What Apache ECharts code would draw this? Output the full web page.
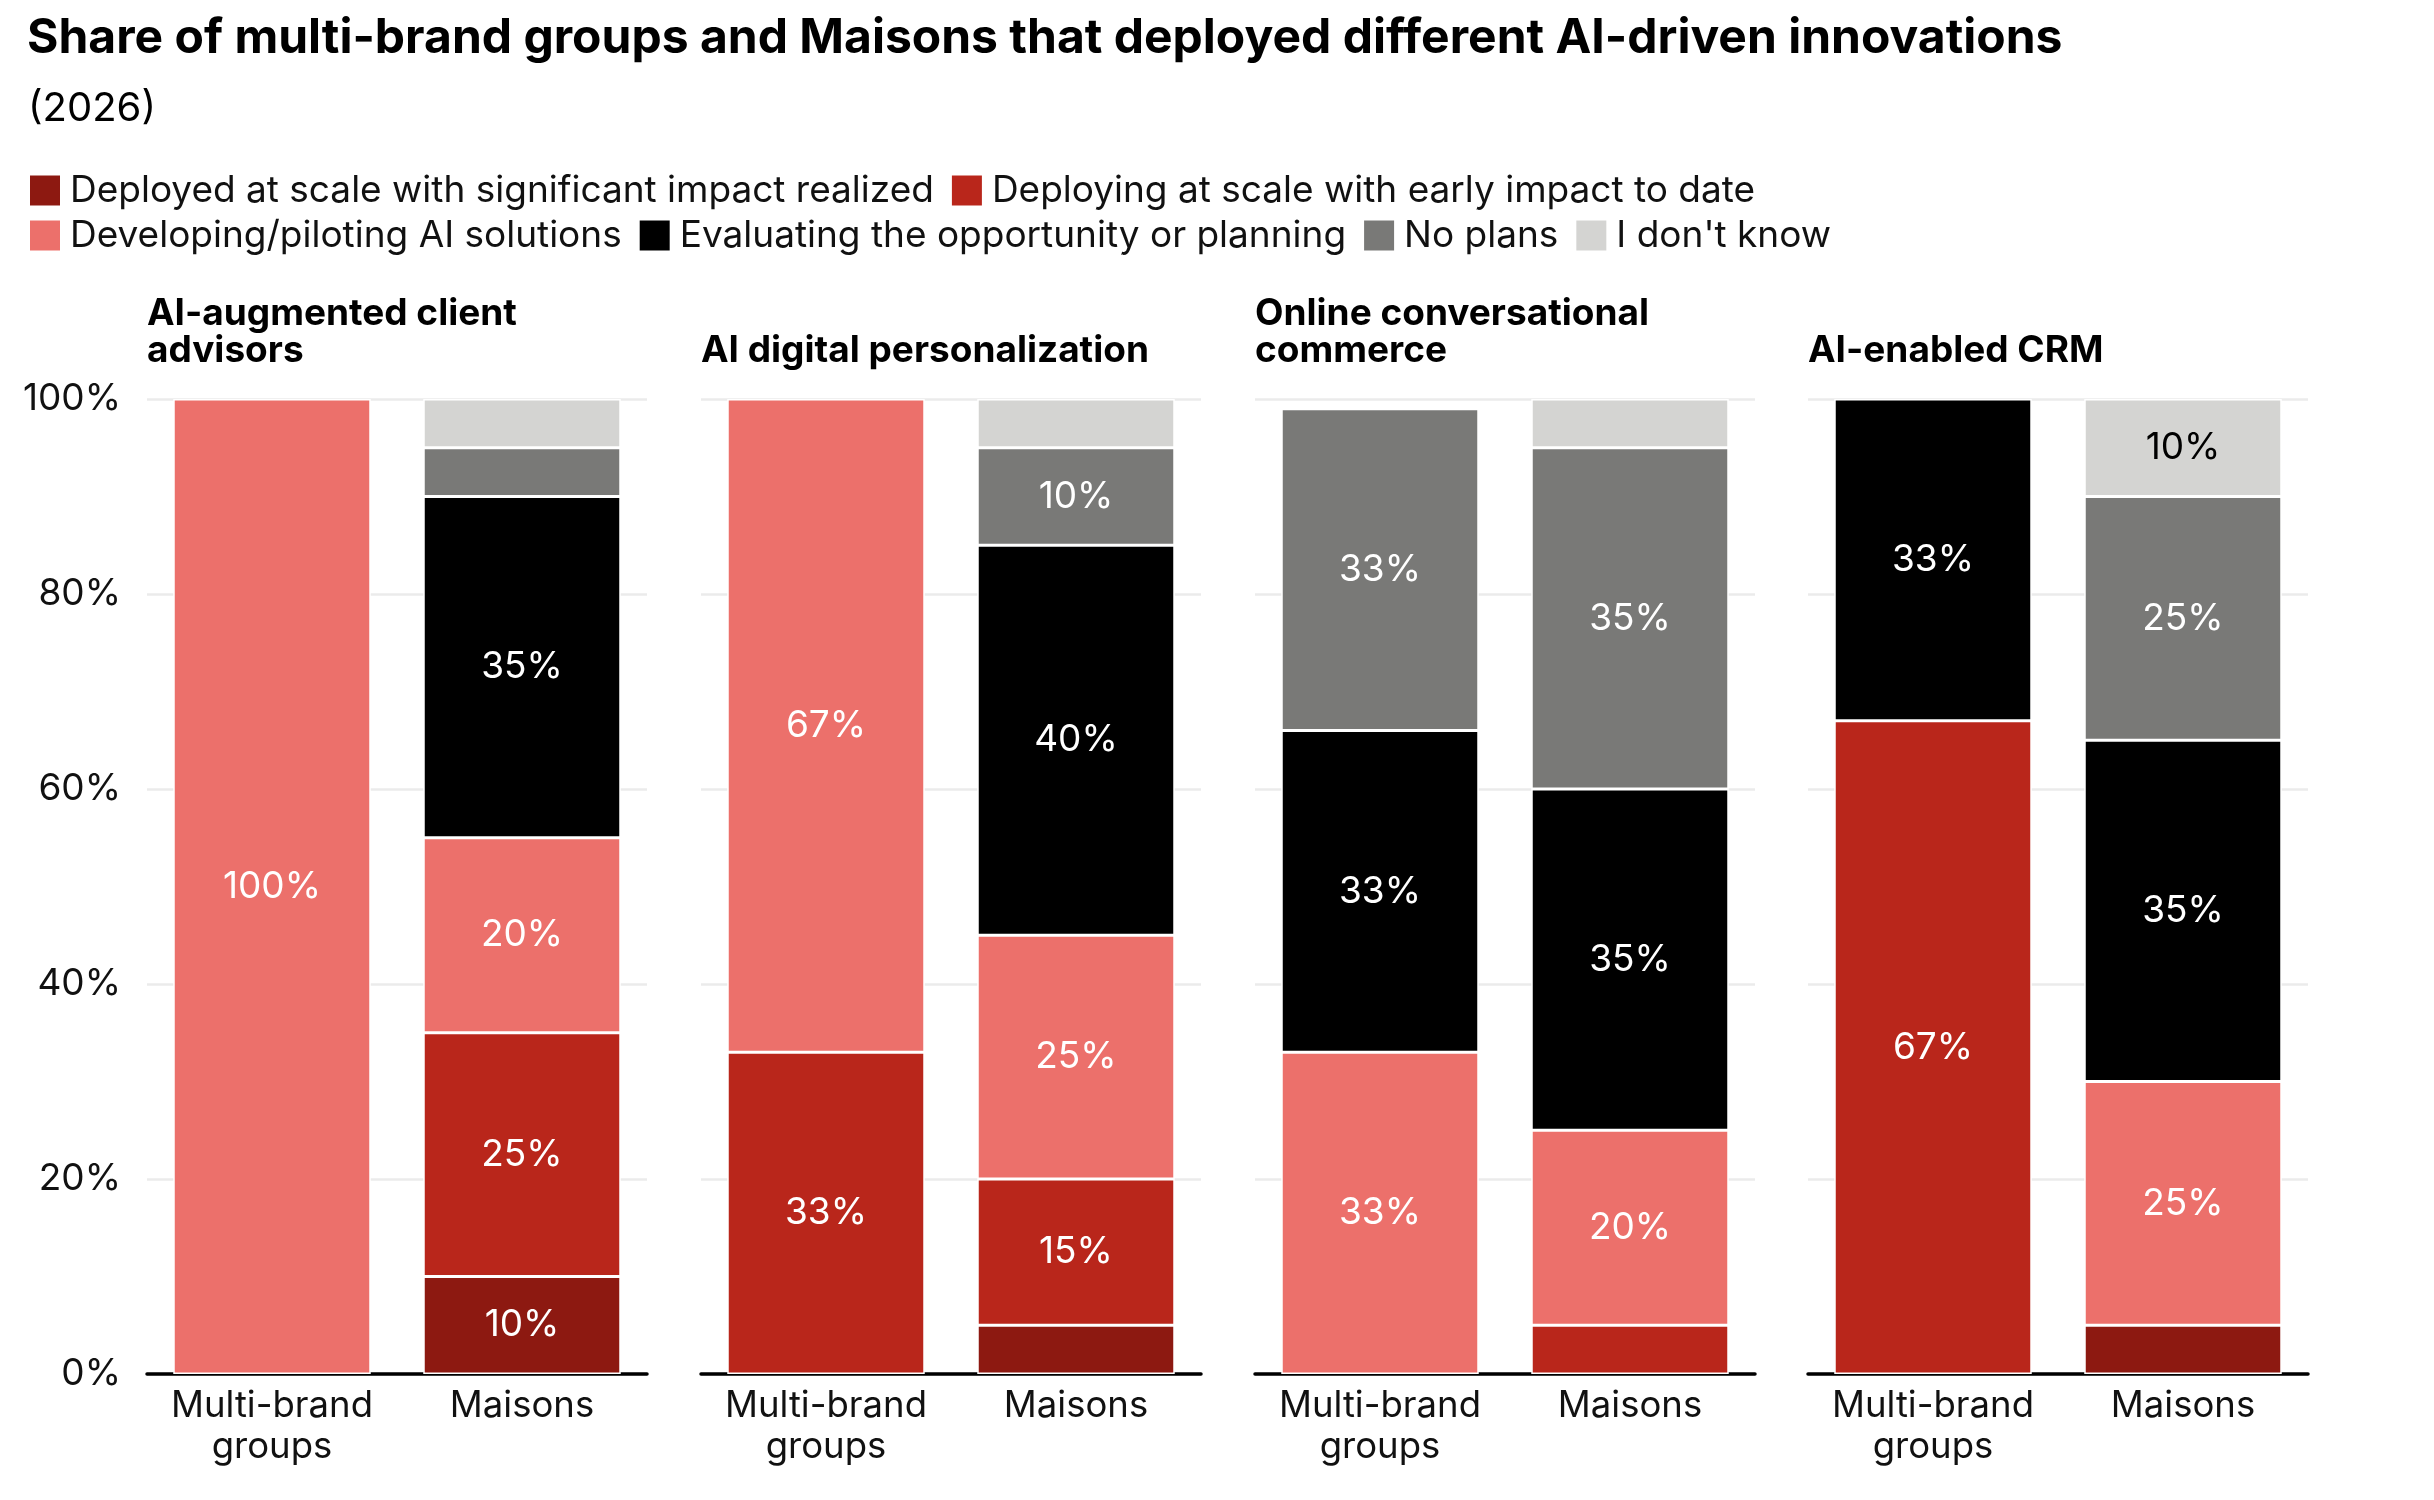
<!DOCTYPE html>
<html>
<head>
<meta charset="utf-8">
<title>AI-driven innovations</title>
<script src="https://cdn.jsdelivr.net/npm/echarts@6/dist/echarts.min.js"></script>
<style>
  html, body { margin: 0; padding: 0; background: #fff; }
  #chart { width: 2434px; height: 1500px; }
</style>
</head>
<body>
<div id="chart"></div>
<script>
// categories on each x axis
const categories = ['Multi-brand\ngroups', 'Maisons'];

// panel headings
const panelTitles = [
    'AI-augmented client\nadvisors',
    'AI digital personalization',
    'Online conversational\ncommerce',
    'AI-enabled CRM'
];

// stages (legend order)
const stages = [
    'Deployed at scale with significant impact realized',
    'Deploying at scale with early impact to date',
    'Developing/piloting AI solutions',
    'Evaluating the opportunity or planning',
    'No plans',
    "I don't know"
];

// values per panel: [Multi-brand groups, Maisons], in %
const deployedImpact     = [[0, 10], [0, 5],   [0, 0],   [0, 5]];
const deployingEarly     = [[0, 25], [33, 15], [0, 5],   [67, 0]];
const developingPiloting = [[100, 20], [67, 25], [33, 20], [0, 25]];
const evaluatingPlanning = [[0, 35], [0, 40],  [33, 35], [33, 35]];
const noPlans            = [[0, 5],  [0, 10],  [33, 35], [0, 25]];
const dontKnow           = [[0, 5],  [0, 5],   [0, 5],   [0, 10]];

const yTicks = [0, 20, 40, 60, 80, 100];

const stageValues = [deployedImpact, deployingEarly, developingPiloting, evaluatingPlanning, noPlans, dontKnow];
const stageColors = ['#8d1911', '#b9261b', '#ec706b', '#000000', '#797977', '#d4d4d2'];
const labelColors = ['#fff', '#fff', '#fff', '#fff', '#fff', '#000'];

const FONT = 'Inter, "Noto Sans", sans-serif';

// layout
const gridTop = 399;
const gridHeight = 975;
const gridWidth = 500;
const gridLefts = [147, 701, 1255, 1808];

const chart = echarts.init(document.getElementById('chart'));

const grids = [];
const xAxes = [];
const yAxes = [];
const series = [];
const titles = [
    {
        text: 'Share of multi-brand groups and Maisons that deployed different AI-driven innovations',
        left: 27, top: 15, padding: 0,
        textStyle: { fontFamily: FONT, fontSize: 48, fontWeight: 700, color: '#000' }
    },
    {
        text: '(2026)',
        left: 28, top: 89, padding: 0,
        textStyle: { fontFamily: FONT, fontSize: 40, fontWeight: 400, color: '#000' }
    }
];

panelTitles.forEach((t, i) => {
    const twoLines = t.indexOf('\n') >= 0;
    titles.push({
        text: t,
        left: gridLefts[i], top: twoLines ? 295 : 332, padding: 0,
        textStyle: { fontFamily: FONT, fontSize: 37, fontWeight: 700, color: '#000', lineHeight: 37 }
    });

    grids.push({ left: gridLefts[i], top: gridTop, width: gridWidth, height: gridHeight });

    xAxes.push({
        type: 'category',
        gridIndex: i,
        data: categories,
        axisTick: { show: false },
        axisLine: { lineStyle: { color: '#000', width: 3.5 } },
        axisLabel: {
            fontFamily: FONT, fontSize: 36.5, color: '#111', lineHeight: 41,
            margin: 12, interval: 0
        }
    });

    yAxes.push({
        type: 'value',
        gridIndex: i,
        min: 0, max: 100, interval: 20,
        axisLine: { show: false },
        axisTick: { show: false },
        splitLine: { lineStyle: { color: '#ebebeb', width: 2.5 } },
        axisLabel: {
            show: i === 0,
            fontFamily: FONT, fontSize: 37, color: '#111', margin: 26,
            formatter: v => (yTicks.indexOf(v) >= 0 ? v + '%' : '')
        }
    });

    stages.forEach((name, s) => {
        series.push({
            name: name,
            type: 'bar',
            xAxisIndex: i,
            yAxisIndex: i,
            stack: 'panel' + i,
            barCategoryGap: '21%',
            data: stageValues[s][i].map(v => (v > 0 ? v : '-')),
            itemStyle: { color: stageColors[s], borderColor: '#fff', borderWidth: 1.5 },
            label: {
                show: true,
                position: 'inside',
                fontFamily: FONT, fontSize: 37, color: labelColors[s],
                formatter: p => (p.value >= 10 ? p.value + '%' : '')
            },
            emphasis: { disabled: true },
            animation: false
        });
    });
});

const legendBase = {
    left: 28,
    padding: 0,
    icon: 'rect',
    itemWidth: 32,
    itemHeight: 32,
    itemGap: 16,
    selectedMode: false,
    textStyle: { fontFamily: FONT, fontSize: 37, color: '#111', padding: [0, 0, 0, 4] }
};

const option = {
    backgroundColor: '#fff',
    animation: false,
    title: titles,
    legend: [
        Object.assign({}, legendBase, { top: 172, data: stages.slice(0, 2) }),
        Object.assign({}, legendBase, { top: 217, data: stages.slice(2) })
    ],
    grid: grids,
    xAxis: xAxes,
    yAxis: yAxes,
    series: series
};

chart.setOption(option);
</script>
</body>
</html>
